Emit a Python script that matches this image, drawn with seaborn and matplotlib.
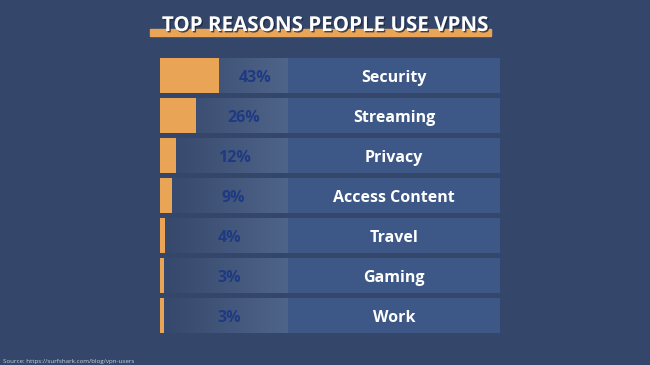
import matplotlib
matplotlib.use("Agg")
import matplotlib.pyplot as plt
import matplotlib.patheffects as pe
from matplotlib.patches import Rectangle
import numpy as np
import pandas as pd
import seaborn as sns

categories = ["Security", "Streaming", "Privacy", "Access Content", "Travel", "Gaming", "Work"]
values = [43, 26, 12, 9, 4, 3, 3]
value_labels = ["43%", "26%", "12%", "9%", "4%", "3%", "3%"]
title = "TOP REASONS PEOPLE USE VPNS"
source = "Source: https://surfshark.com/blog/vpn-users"

BG = "#34466a"
ROW = "#3d5886"
ORANGE = "#e9a456"
PCT = "#1e3a82"

sns.set_theme(style="white")
plt.rcParams["font.family"] = ["Open Sans", "DejaVu Sans"]

W, H = 650, 365
fig = plt.figure(figsize=(6.5, 3.65), dpi=100, facecolor=BG)

px_per_unit = 1.37
x_total = (500 - 160) / px_per_unit
grad_end = (288 - 160) / px_per_unit
ax = fig.add_axes([160 / W, 1 - 335.5 / H, 340 / W, 280 / H])
ax.set_facecolor(BG)

df = pd.DataFrame({"category": categories, "value": values})
df["full"] = x_total

sns.barplot(data=df, x="full", y="category", orient="h", color=ROW,
            width=0.875, saturation=1, ax=ax, zorder=1, linewidth=0, edgecolor="none")
grad = np.linspace(0, 1, 256).reshape(1, -1)
cmap = matplotlib.colors.LinearSegmentedColormap.from_list("g", ["#35476b", "#4f6489"])
for i in range(len(categories)):
    ax.imshow(grad, cmap=cmap, aspect="auto", zorder=2,
              extent=(0, grad_end, i + 0.4375, i - 0.4375))
sns.barplot(data=df, x="value", y="category", orient="h", color=ORANGE,
            width=0.875, saturation=1, ax=ax, zorder=3, linewidth=0, edgecolor="none")

for i, (v, lab, cat) in enumerate(zip(values, value_labels, categories)):
    ax.text(49 + 0.47 * v, i, lab, ha="center", va="center_baseline", color=PCT,
            fontsize=11.5, fontweight="bold", zorder=4)
    ax.text((grad_end + x_total) / 2, i, cat, ha="center", va="center_baseline",
            color="white", fontsize=11.5, fontweight="bold", zorder=4)

ax.set_xlim(0, x_total)
ax.set_ylim(len(categories) - 0.5, -0.5)
ax.axis("off")

fig.patches.append(Rectangle((150 / W, 1 - 36 / H), (491 - 150) / W, 7 / H,
                             transform=fig.transFigure, color=ORANGE, zorder=1))
fig.text(325 / W, 1 - 25.5 / H, title, ha="center", va="center", color="white",
         fontsize=14.8, fontweight="bold", zorder=3,
         path_effects=[pe.withSimplePatchShadow(offset=(1, -1), shadow_rgbFace="#1c2740", alpha=0.8)])

fig.text(3 / W, 1 - 361 / H, source, ha="left", va="center", color="#c8cfdb", fontsize=4.5)

fig.savefig("out.png", dpi=100, facecolor=BG)
